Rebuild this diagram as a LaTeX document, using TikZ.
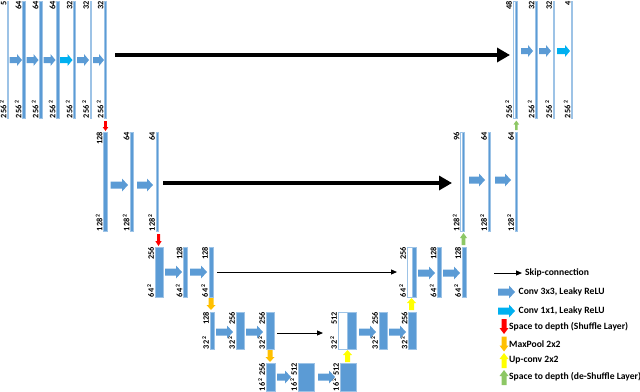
\documentclass[tikz,border=0pt]{standalone}
\usepackage{fontspec}
\setmainfont{Carlito}
\usetikzlibrary{arrows.meta}
\definecolor{barblue}{HTML}{5B9BD5}
\definecolor{edgeblue}{HTML}{9DC3E6}
\definecolor{lightblue}{HTML}{DEEBF7}
\definecolor{cyanc}{HTML}{00B0F0}
\definecolor{redc}{HTML}{FF0000}
\definecolor{orangec}{HTML}{FFC000}
\definecolor{yellowc}{HTML}{FFFF00}
\definecolor{greenc}{HTML}{8DC765}
\tikzset{
  bluebar/.style={draw=edgeblue, fill=barblue, line width=0.4pt, inner sep=0, outer sep=0},
  lightbar/.style={draw=edgeblue, fill=lightblue, line width=0.4pt, inner sep=0, outer sep=0},
  catbox/.style={draw=edgeblue, fill=white, line width=0.5pt, inner sep=0, outer sep=0},
  lab/.style={inner sep=0, outer sep=0, rotate=90, font=\fontsize{8.3}{8.3}\selectfont\bfseries},
  legtext/.style={inner sep=0, anchor=west, font=\fontsize{9.6}{9.6}\selectfont\bfseries},
  skipthick/.style={line width=3.5pt, -{Triangle[length=13pt,width=14pt]}},
  skipthin/.style={line width=1pt, -{Triangle[length=6pt,width=5pt]}},
}
% name, x, width, ytop, ybottom, style
\newcommand\Bar[6]{\node[#6, minimum width=#3pt, minimum height={#5pt-#4pt}, anchor=north west] (#1) at (#2,#4) {};}
% name of bar, top text, bottom text
\newcommand\Labs[3]{%
  \node[lab, anchor=south east] (#1t) at ([xshift=-1pt]#1.north west) {#2};
  \node[lab, anchor=south west] (#1b) at ([xshift=-1pt]#1.south west) {#3\,\textsuperscript{2}};}
% horizontal block arrow: x1, x2, y, colour, half shaft, half head, head length
\newcommand\HArr[7]{\fill[#4] (#1,#3-#5) -- (#2-#7,#3-#5) -- (#2-#7,#3-#6) -- (#2,#3) -- (#2-#7,#3+#6) -- (#2-#7,#3+#5) -- (#1,#3+#5) -- cycle;}
% down arrow: x, ytail, ytip, colour, half shaft, half head, head length
\newcommand\DArr[7]{\fill[#4] (#1-#5,#2) -- (#1-#5,#3-#7) -- (#1-#6,#3-#7) -- (#1,#3) -- (#1+#6,#3-#7) -- (#1+#5,#3-#7) -- (#1+#5,#2) -- cycle;}
% up arrow: x, ytail, ytip, colour, half shaft, half head, head length
\newcommand\UArr[7]{\fill[#4] (#1-#5,#2) -- (#1-#5,#3+#7) -- (#1-#6,#3+#7) -- (#1,#3) -- (#1+#6,#3+#7) -- (#1+#5,#3+#7) -- (#1+#5,#2) -- cycle;}
\newcommand\SmallH[4]{\HArr{#1}{#2}{#3}{#4}{3}{6}{5}}
\newcommand\BigH[4]{\HArr{#1}{#2}{#3}{#4}{3.5}{6.5}{6}}
\begin{document}
\begin{tikzpicture}[x=1pt,y=-1pt]
\useasboundingbox (0,0) rectangle (640,391);
% ---------- level 1 ----------
\Bar{b10}{7.4}{1}{1}{118}{lightbar}\Labs{b10}{5}{256}
\Bar{b11}{22.5}{2.5}{1}{118}{bluebar}\Labs{b11}{64}{256}
\Bar{b12}{39.5}{2.5}{1}{118}{bluebar}\Labs{b12}{64}{256}
\Bar{b13}{56.5}{2.5}{1}{118}{bluebar}\Labs{b13}{64}{256}
\Bar{b14}{73.5}{1.5}{1}{118}{bluebar}\Labs{b14}{32}{256}
\Bar{b15}{90}{1.5}{1}{118}{bluebar}\Labs{b15}{32}{256}
\Bar{b16}{104.5}{1.5}{1}{118}{bluebar}\Labs{b16}{32}{256}
\SmallH{9.5}{22}{60}{barblue}
\SmallH{26.5}{38.5}{60}{barblue}
\SmallH{43.5}{55.5}{60}{barblue}
\SmallH{60}{72.5}{60}{cyanc}
\SmallH{77}{89}{60}{barblue}
\SmallH{93}{104}{60}{barblue}
\Bar{c10}{513}{4}{1}{118}{catbox}\Labs{c10}{48}{256}
\Bar{c10i}{515.5}{1.5}{1}{118}{bluebar}
\Bar{c11}{535.5}{1.5}{1}{118}{bluebar}\Labs{c11}{32}{256}
\Bar{c12}{553}{1.5}{1}{118}{bluebar}\Labs{c12}{32}{256}
\Bar{c13}{571.5}{1}{1}{118}{lightbar}\Labs{c13}{4}{256}
\SmallH{521}{533}{51}{barblue}
\SmallH{539}{551}{51}{barblue}
\SmallH{557}{570}{51}{cyanc}
\coordinate (s1a) at (115,55);
\coordinate (s1b) at (510,55);
\draw[skipthick] (s1a) -- (s1b);
% ---------- level 2 ----------
\Bar{b20}{103.5}{4}{132}{231}{bluebar}\Labs{b20}{128}{128}
\Bar{b21}{130.5}{2.5}{132}{231}{bluebar}\Labs{b21}{64}{128}
\Bar{b22}{156}{2.5}{132}{231}{bluebar}\Labs{b22}{64}{128}
\BigH{110.5}{128}{185}{barblue}
\BigH{137}{153}{185}{barblue}
\Bar{c20}{460.5}{4}{132}{231}{catbox}\Labs{c20}{96}{128}
\Bar{c20i}{462.5}{2}{132}{231}{bluebar}
\Bar{c21}{488}{2.5}{132}{231}{bluebar}\Labs{c21}{64}{128}
\Bar{c22}{515}{2.5}{132}{231}{bluebar}\Labs{c22}{64}{128}
\BigH{469}{485}{180}{barblue}
\BigH{495}{511}{180}{barblue}
\coordinate (s2a) at (163,183);
\coordinate (s2b) at (452,183);
\draw[skipthick] (s2a) -- (s2b);
\DArr{105.5}{121}{131}{redc}{1.3}{2.8}{4}
\UArr{516.3}{130}{120.5}{greenc}{1.3}{2.8}{4}
% ---------- level 3 ----------
\Bar{b30}{155}{8}{247}{297}{bluebar}\Labs{b30}{256}{64}
\Bar{b31}{183.5}{4}{247}{297}{bluebar}\Labs{b31}{128}{64}
\Bar{b32}{209}{4}{247}{297}{bluebar}\Labs{b32}{128}{64}
\BigH{165}{182}{272}{barblue}
\BigH{190}{207}{272}{barblue}
\Bar{c30}{407}{9}{247}{297}{catbox}\Labs{c30}{256}{64}
\Bar{c30i}{412}{4}{247}{297}{bluebar}
\Bar{c31}{437.5}{4}{247}{297}{bluebar}\Labs{c31}{128}{64}
\Bar{c32}{462}{4}{247}{297}{bluebar}\Labs{c32}{128}{64}
\BigH{418}{435}{273}{barblue}
\BigH{443}{460}{273}{barblue}
\coordinate (s3a) at (217,272);
\coordinate (s3b) at (397,272);
\draw[skipthin] (s3a) -- (s3b);
\DArr{158.5}{234}{246}{redc}{1.5}{3.2}{5}
\UArr{463.5}{245}{233}{greenc}{1.8}{3.5}{5}
% ---------- level 4 ----------
\Bar{b40}{210}{4}{312}{349}{bluebar}\Labs{b40}{128}{32}
\Bar{b41}{236}{8}{312}{349}{bluebar}\Labs{b41}{256}{32}
\Bar{b42}{266}{8}{312}{349}{bluebar}\Labs{b42}{256}{32}
\BigH{216}{233}{332}{barblue}
\BigH{246}{263}{332}{barblue}
\Bar{c40}{338}{18}{312}{349}{catbox}\Labs{c40}{512}{32}
\Bar{c40i}{347}{9}{312}{349}{bluebar}
\Bar{c41}{379}{8}{312}{349}{bluebar}\Labs{c41}{256}{32}
\Bar{c42}{408.5}{8}{312}{349}{bluebar}\Labs{c42}{256}{32}
\BigH{359}{376}{332}{barblue}
\BigH{389}{406}{332}{barblue}
\coordinate (s4a) at (277,333);
\coordinate (s4b) at (323,333);
\draw[skipthin] (s4a) -- (s4b);
\DArr{211}{298}{310}{orangec}{2.5}{4.5}{5}
\UArr{411.5}{310}{298}{yellowc}{2.5}{4.5}{5}
% ---------- level 5 ----------
\Bar{b50}{266}{9}{363}{391}{bluebar}\Labs{b50}{256}{16}
\Bar{b51}{298}{16}{363}{391}{bluebar}\Labs{b51}{512}{16}
\Bar{b52}{340}{16}{363}{391}{bluebar}\Labs{b52}{512}{16}
\BigH{277}{291}{377}{barblue}
\BigH{318}{335}{377}{barblue}
\DArr{270}{350}{362}{orangec}{2.5}{4.5}{5}
\UArr{347.5}{362}{350}{yellowc}{2.5}{4.5}{5}
% ---------- legend ----------
\coordinate (ls1) at (494,273);
\coordinate (ls2) at (522,273);
\draw[skipthin] (ls1) -- (ls2);
\node[legtext] (lt1) at (525,273) {Skip-connection};
\BigH{498}{515}{292}{barblue}
\node[legtext] (lt2) at (518.5,292) {Conv 3x3, Leaky ReLU};
\BigH{498}{515}{311}{cyanc}
\node[legtext] (lt3) at (518.5,311) {Conv 1x1, Leaky ReLU};
\DArr{504}{319}{334}{redc}{2.5}{4.5}{6}
\node[legtext] (lt4) at (509,327) {Space to depth (Shuffle Layer)};
\DArr{504}{336.5}{351.5}{orangec}{2.5}{4.5}{6}
\node[legtext] (lt5) at (509,344) {MaxPool 2x2};
\UArr{504}{368}{353}{yellowc}{2.5}{4.5}{6}
\node[legtext] (lt6) at (509,360) {Up-conv 2x2};
\UArr{504}{385}{370}{greenc}{2.5}{4.5}{6}
\node[legtext] (lt7) at (509,377) {Space to depth (de-Shuffle Layer)};
\end{tikzpicture}
\end{document}
